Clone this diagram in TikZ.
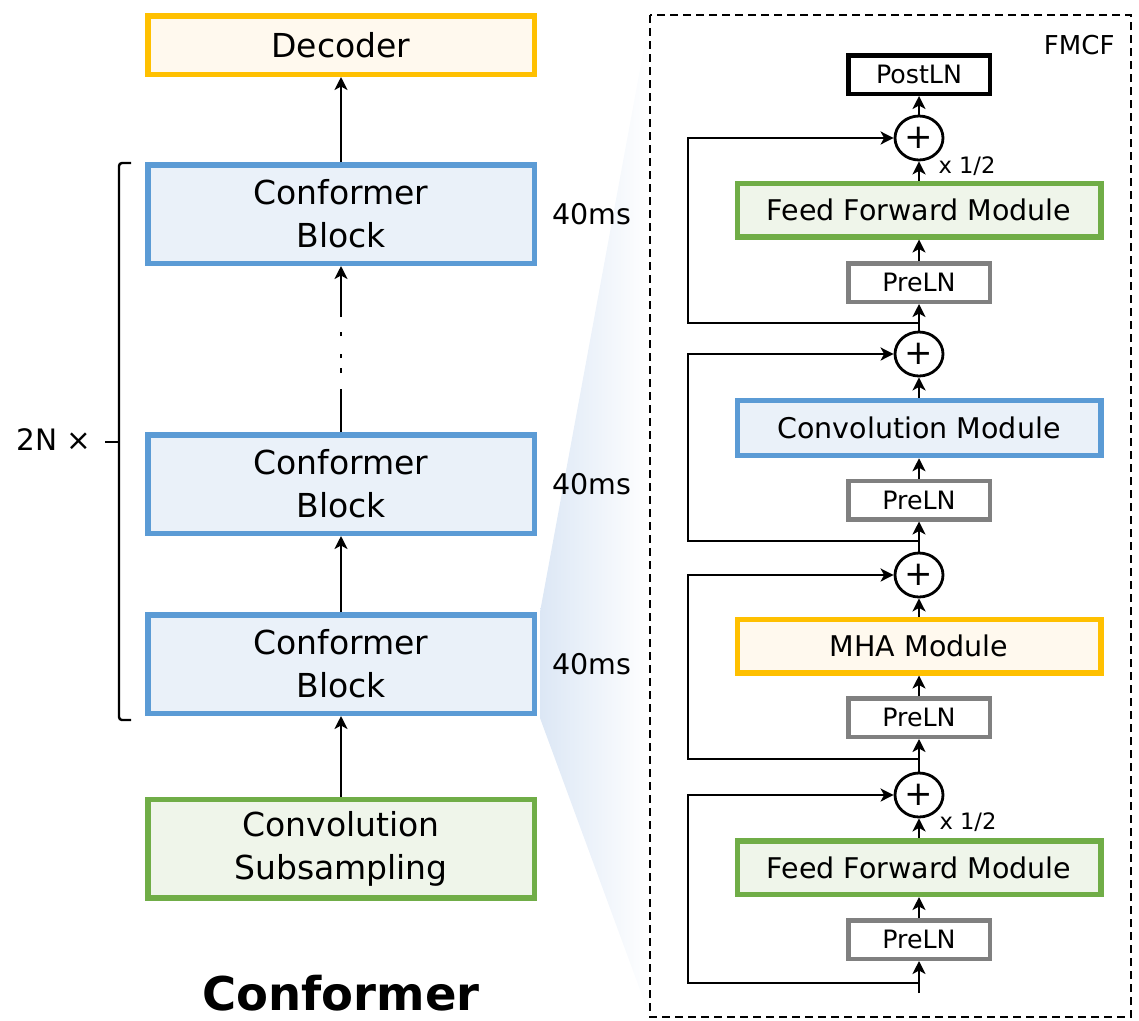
\documentclass[tikz,border=0pt]{standalone}
\usepackage{fontspec}
\setmainfont{DejaVu Sans}
\usetikzlibrary{arrows.meta,shapes.geometric}
\definecolor{cblue}{HTML}{5B9BD5}
\definecolor{fblue}{HTML}{EAF1F9}
\definecolor{corange}{HTML}{FFC000}
\definecolor{forange}{HTML}{FFF9EE}
\definecolor{cgreen}{HTML}{70AD47}
\definecolor{fgreen}{HTML}{EFF5EA}
\definecolor{cgray}{HTML}{808080}
\definecolor{fanblue}{HTML}{DCE7F5}
\begin{document}
\begin{tikzpicture}[x=1pt,y=-1pt,
  bigbox/.style={draw, line width=5.5pt, rectangle, inner sep=0pt, minimum width=386.5pt, minimum height=98.5pt, align=center, font=\fontsize{33}{43}\selectfont},
  blockbox/.style={bigbox, draw=cblue, fill=fblue},
  modbox/.style={draw, line width=5.5pt, rectangle, inner sep=0pt, minimum width=363.5pt, minimum height=53.5pt, font=\fontsize{28.5}{34}\selectfont},
  lnbox/.style={draw=cgray, line width=4.5pt, fill=white, rectangle, inner sep=0pt, minimum width=141.5pt, minimum height=38.5pt, font=\fontsize{25.3}{30}\selectfont},
  addnode/.style={draw, line width=2.8pt, ellipse, fill=white, inner sep=0pt, minimum width=48pt, minimum height=44pt, font=\fontsize{34}{34}\selectfont},
  arr/.style={line width=2.8pt, -{Stealth[length=13pt,width=13pt,inset=3.5pt]}},
  lbl/.style={font=\fontsize{28.5}{34}\selectfont},
  halflbl/.style={font=\fontsize{22.6}{26}\selectfont}
]
\useasboundingbox (0,0) rectangle (1139,1020);

% fan shading
\shade[left color=fanblue, right color=white, draw=none] (540,612) -- (650,15) -- (650,1017) -- (540,718) -- cycle;

% left column
\node[bigbox, draw=corange, fill=forange, minimum height=58.5pt] (dec) at (341,45) {Decoder};
\node[blockbox] (cb3) at (341,214) {Conformer\\Block};
\node[blockbox] (cb2) at (341,484) {Conformer\\Block};
\node[blockbox] (cb1) at (341,664) {Conformer\\Block};
\node[bigbox, draw=cgreen, fill=fgreen] (sub) at (341,848.5) {Convolution\\Subsampling};

\draw[arr] (sub.north) -- (cb1.south);
\draw[arr] (cb1.north) -- (cb2.south);
\draw[arr, dash pattern=on 43pt off 16pt on 5pt off 10pt on 4pt off 18pt on 4pt off 15pt on 200pt] (cb2.north) -- (cb3.south);
\draw[arr] (cb3.north) -- (dec.south);

\node[lbl] (ms3) at (592,214) {40ms};
\node[lbl] (ms2) at (592,484) {40ms};
\node[lbl] (ms1) at (592,664) {40ms};

% bracket
\draw[line width=2.4pt, rounded corners=3pt] (131,163) -- (119,163) -- (119,720) -- (131,720);
\draw[line width=2.4pt] (105,442) -- (119,442);
\node[font=\fontsize{29.5}{34}\selectfont] (rep) at (54,440) {2N ×};

\node[font=\fontsize{46.5}{50}\selectfont\bfseries] (title) at (341,993) {Conformer};

% right panel
\draw[line width=2.2pt, dash pattern=on 8pt off 5pt] (650,15) rectangle (1131,1017);
\node[font=\fontsize{26}{30}\selectfont, anchor=east] (fmcf) at (1118,45) {FMCF};

\node[lnbox, draw=black] (post) at (919,74.5) {PostLN};
\node[addnode] (p1) at (919,138) {+};
\node[modbox, draw=cgreen, fill=fgreen] (ffm2) at (919,210) {Feed Forward Module};
\node[lnbox] (pre4) at (919,282.5) {PreLN};
\node[addnode] (p2) at (919,354) {+};
\node[modbox, draw=cblue, fill=fblue, minimum height=55pt] (conv) at (919,428) {Convolution Module};
\node[lnbox] (pre3) at (919,500) {PreLN};
\node[addnode] (p3) at (919,575) {+};
\node[modbox, draw=corange, fill=forange] (mha) at (919,646) {MHA Module};
\node[lnbox] (pre2) at (919,717.5) {PreLN};
\node[addnode] (p4) at (919,795) {+};
\node[modbox, draw=cgreen, fill=fgreen] (ffm1) at (919,867.5) {Feed Forward Module};
\node[lnbox] (pre1) at (919,939.5) {PreLN};

\coordinate (in) at (919,993);
\coordinate (b1) at (919,983);
\coordinate (b2) at (919,759);
\coordinate (b3) at (919,541);
\coordinate (b4) at (919,323);
\coordinate (skx) at (688,0);

\draw[arr] (in) -- (pre1.south);
\draw[arr] (pre1.north) -- (ffm1.south);
\draw[arr] (ffm1.north) -- (p4.south);
\draw[arr] (p4.north) -- (pre2.south);
\draw[arr] (pre2.north) -- (mha.south);
\draw[arr] (mha.north) -- (p3.south);
\draw[arr] (p3.north) -- (pre3.south);
\draw[arr] (pre3.north) -- (conv.south);
\draw[arr] (conv.north) -- (p2.south);
\draw[arr] (p2.north) -- (pre4.south);
\draw[arr] (pre4.north) -- (ffm2.south);
\draw[arr] (ffm2.north) -- (p1.south);
\draw[arr] (p1.north) -- (post.south);

\draw[arr] (b1) -- (b1 -| skx) |- (p4.west);
\draw[arr] (b2) -- (b2 -| skx) |- (p3.west);
\draw[arr] (b3) -- (b3 -| skx) |- (p2.west);
\draw[arr] (b4) -- (b4 -| skx) |- (p1.west);

\node[halflbl] (h2) at (967,166) {x 1/2};
\node[halflbl] (h1) at (968,822) {x 1/2};
\end{tikzpicture}
\end{document}
